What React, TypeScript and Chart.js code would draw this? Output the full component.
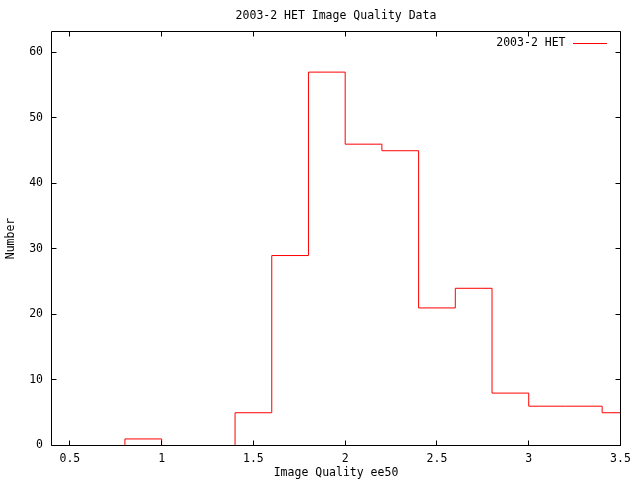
import React, { useEffect, useRef } from "react";
import { Chart, registerables } from "chart.js";

Chart.register(...registerables);

const chartTitle = "2003-2 HET Image Quality Data";
const seriesLabel = "2003-2 HET";
const xTitle = "Image Quality ee50";
const yTitle = "Number";

// left edges of histogram bins and their counts
const binLeft = [0.6, 0.8, 1.0, 1.2, 1.4, 1.6, 1.8, 2.0, 2.2, 2.4, 2.6, 2.8, 3.0, 3.2, 3.4];
const counts = [0, 1, 0, 0, 5, 29, 57, 46, 45, 21, 24, 8, 6, 6, 5];
const lastEdge = 3.5;

const xMin = 0.4;
const xMax = 3.5;
const xStep = 0.5;
const yMin = 0;
const yMax = 63.2;
const yStep = 10;

const FONT = "'DejaVu Sans Mono', 'Liberation Mono', monospace";
const FS = 11.5;
const RED = "#ff0000";

const framePlugin = {
  id: "gnuFrame",
  afterDatasetsDraw(chart: any) {
    const { ctx, chartArea } = chart;
    const { left, right, top, bottom } = chartArea;
    const xs = chart.scales.x;
    const ys = chart.scales.y;
    ctx.save();
    ctx.strokeStyle = "#000";
    ctx.lineWidth = 1;
    const L = left;
    const R = right;
    const T = top;
    const B = bottom;
    ctx.beginPath();
    ctx.rect(L, T, R - L, B - T);
    ctx.stroke();
    const tl = 5;
    const snap = (v: number) => Math.round(v - 0.5) + 0.5;
    ctx.beginPath();
    xs.ticks.forEach((t: any) => {
      const px = Math.min(R, Math.max(L, snap(xs.getPixelForValue(t.value))));
      ctx.moveTo(px, B);
      ctx.lineTo(px, B - tl);
      ctx.moveTo(px, T);
      ctx.lineTo(px, T + tl);
    });
    ys.ticks.forEach((t: any) => {
      const py = Math.min(B, Math.max(T, snap(ys.getPixelForValue(t.value))));
      ctx.moveTo(L, py);
      ctx.lineTo(L + tl, py);
      ctx.moveTo(R, py);
      ctx.lineTo(R - tl, py);
    });
    ctx.stroke();

    // key (legend) at top-right inside the plot
    const ds = chart.data.datasets[0];
    ctx.font = `${FS}px ${FONT}`;
    ctx.fillStyle = "#000";
    ctx.textAlign = "right";
    ctx.textBaseline = "middle";
    const ky = 43;
    ctx.fillText(ds.label, right - 55, ky);
    ctx.strokeStyle = ds.borderColor;
    ctx.beginPath();
    ctx.moveTo(right - 47.5, ky + 0.5);
    ctx.lineTo(right - 13.5, ky + 0.5);
    ctx.stroke();
    ctx.restore();
  },
};

export default function App() {
  const ref = useRef<HTMLCanvasElement | null>(null);
  useEffect(() => {
    if (!ref.current) return;
    const points = binLeft.map((x, i) => ({ x, y: counts[i] }));
    points.push({ x: lastEdge, y: counts[counts.length - 1] });
    const chart = new Chart(ref.current, {
      type: "line",
      data: {
        datasets: [
          {
            label: seriesLabel,
            data: points,
            borderColor: RED,
            backgroundColor: RED,
            borderWidth: 1,
            stepped: true,
            pointRadius: 0,
            fill: false,
            tension: 0,
          },
        ],
      },
      options: {
        animation: false,
        responsive: true,
        maintainAspectRatio: false,
        layout: { padding: { left: 0, right: 19.5, top: 0, bottom: 0 } },
        plugins: {
          legend: { display: false },
          tooltip: { enabled: false },
          title: {
            display: true,
            fullSize: false,
            text: chartTitle,
            color: "#000",
            font: { family: FONT, size: FS, weight: "normal", lineHeight: 1.2 },
            padding: { top: 8.8, bottom: 8.9 },
          },
        },
        scales: {
          x: {
            type: "linear",
            min: xMin,
            max: xMax,
            grid: { display: false, drawTicks: false },
            border: { display: false },
            ticks: {
              stepSize: xStep,
              includeBounds: false,
              color: "#000",
              padding: 6.5,
              maxRotation: 0,
              autoSkip: false,
              font: { family: FONT, size: FS, lineHeight: 1.2 },
              callback: (v: any) => String(v),
            },
            title: {
              display: true,
              text: xTitle,
              color: "#000",
              font: { family: FONT, size: FS, lineHeight: 1.2 },
              padding: { top: 0, bottom: 0 },
            },
            afterFit: (s: any) => {
              s.height = 34.5;
            },
          },
          y: {
            type: "linear",
            min: yMin,
            max: yMax,
            grid: { display: false, drawTicks: false },
            border: { display: false },
            ticks: {
              stepSize: yStep,
              includeBounds: false,
              color: "#000",
              padding: 8.5,
              font: { family: FONT, size: FS, lineHeight: 1.2 },
              callback: (v: any) => String(v),
            },
            title: {
              display: true,
              text: yTitle,
              color: "#000",
              font: { family: FONT, size: FS, lineHeight: 1.2 },
              padding: 4.1,
            },
            afterFit: (s: any) => {
              s.width = 51.5;
            },
          },
        },
      },
      plugins: [framePlugin],
    });
    return () => chart.destroy();
  }, []);
  return (
    <div style={{ position: "fixed", left: 0, top: 0, width: 640, height: 480, background: "#fff" }}>
      <canvas ref={ref} />
    </div>
  );
}
